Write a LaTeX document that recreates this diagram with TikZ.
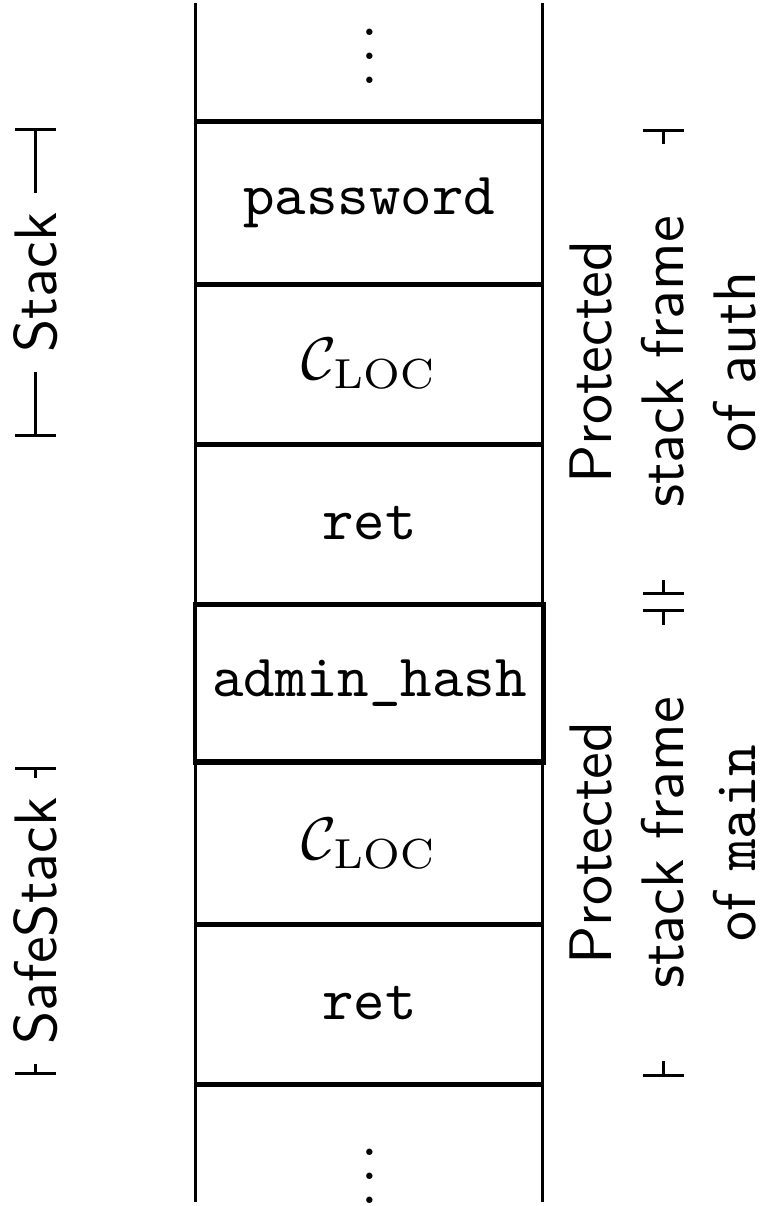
\documentclass[tikz,border=0pt]{standalone}
\usetikzlibrary{arrows.meta}
\newcommand{\tightvdots}{\vbox{\baselineskip4pt \lineskiplimit0pt \hbox{.}\hbox{.}\hbox{.}}}
\begin{document}
\begin{tikzpicture}[x=0.16667pt,y=-0.16667pt,
  cell/.style={minimum width=57.83pt,minimum height=26.67pt,inner sep=0pt},
  hline/.style={line width=0.85pt},
  vline/.style={line width=0.5pt},
  dim/.style={line width=0.5pt,{Bar[width=6.8pt]}-{Bar[width=6.8pt]}},
  lbl/.style={fill=white,font=\sffamily,rotate=90,inner sep=3.3pt},
  framelbl/.style={lbl,text width=66pt,align=center}]
\useasboundingbox (0,0) rectangle (764,1206);
% cells
\node[cell] (pw) at (369.5,203) {\texttt{password}};
\node[cell] (c1) at (369.5,363) {$\mathcal{C}_{\mathrm{LOC}}$};
\node[cell] (r1) at (369.5,523) {\texttt{ret}};
\node[cell,draw,line width=0.5pt,minimum width=58.5pt] (ah) at (369.5,683) {\texttt{admin\_hash}};
\node[cell] (c2) at (369.5,843) {$\mathcal{C}_{\mathrm{LOC}}$};
\node[cell] (r2) at (369.5,1003) {\texttt{ret}};
\node[anchor=base,inner sep=0pt] (dtop) at (369.5,83) {\tightvdots};
\node[anchor=base,inner sep=0pt] (dbot) at (369.5,1203) {\tightvdots};
% column walls
\coordinate (tl) at (196,3);
\coordinate (tr) at (543,3);
\coordinate (bl) at (196,1202);
\coordinate (br) at (543,1202);
\draw[vline] (tl) -- (bl);
\draw[vline] (tr) -- (br);
% row separators
\draw[hline] (pw.north west) -- (pw.north east);
\draw[hline] (pw.south west) -- (pw.south east);
\draw[hline] (c1.south west) -- (c1.south east);
\draw[hline] (r1.south west) -- (r1.south east);
\draw[hline] (c2.north west) -- (c2.north east);
\draw[hline] (c2.south west) -- (c2.south east);
\draw[hline] (r2.south west) -- (r2.south east);
% left brackets
\coordinate (s1) at (35.5,128);
\coordinate (s2) at (35.5,437);
\draw[dim] (s1) -- (s2) node[midway,lbl] (stk) {Stack};
\coordinate (ss1) at (35.5,767);
\coordinate (ss2) at (35.5,1075);
\draw[dim] (ss1) -- (ss2) node[midway,lbl] (sstk) {SafeStack};
% right brackets
\coordinate (a1) at (663.5,129);
\coordinate (a2) at (663.5,595);
\draw[dim] (a1) -- (a2) node[midway,framelbl] (fauth) {Protected\\stack frame\\of auth};
\coordinate (m1) at (663.5,609);
\coordinate (m2) at (663.5,1077);
\draw[dim] (m1) -- (m2) node[midway,framelbl] (fmain) {Protected\\stack frame\\of \texttt{main}};
\end{tikzpicture}
\end{document}
